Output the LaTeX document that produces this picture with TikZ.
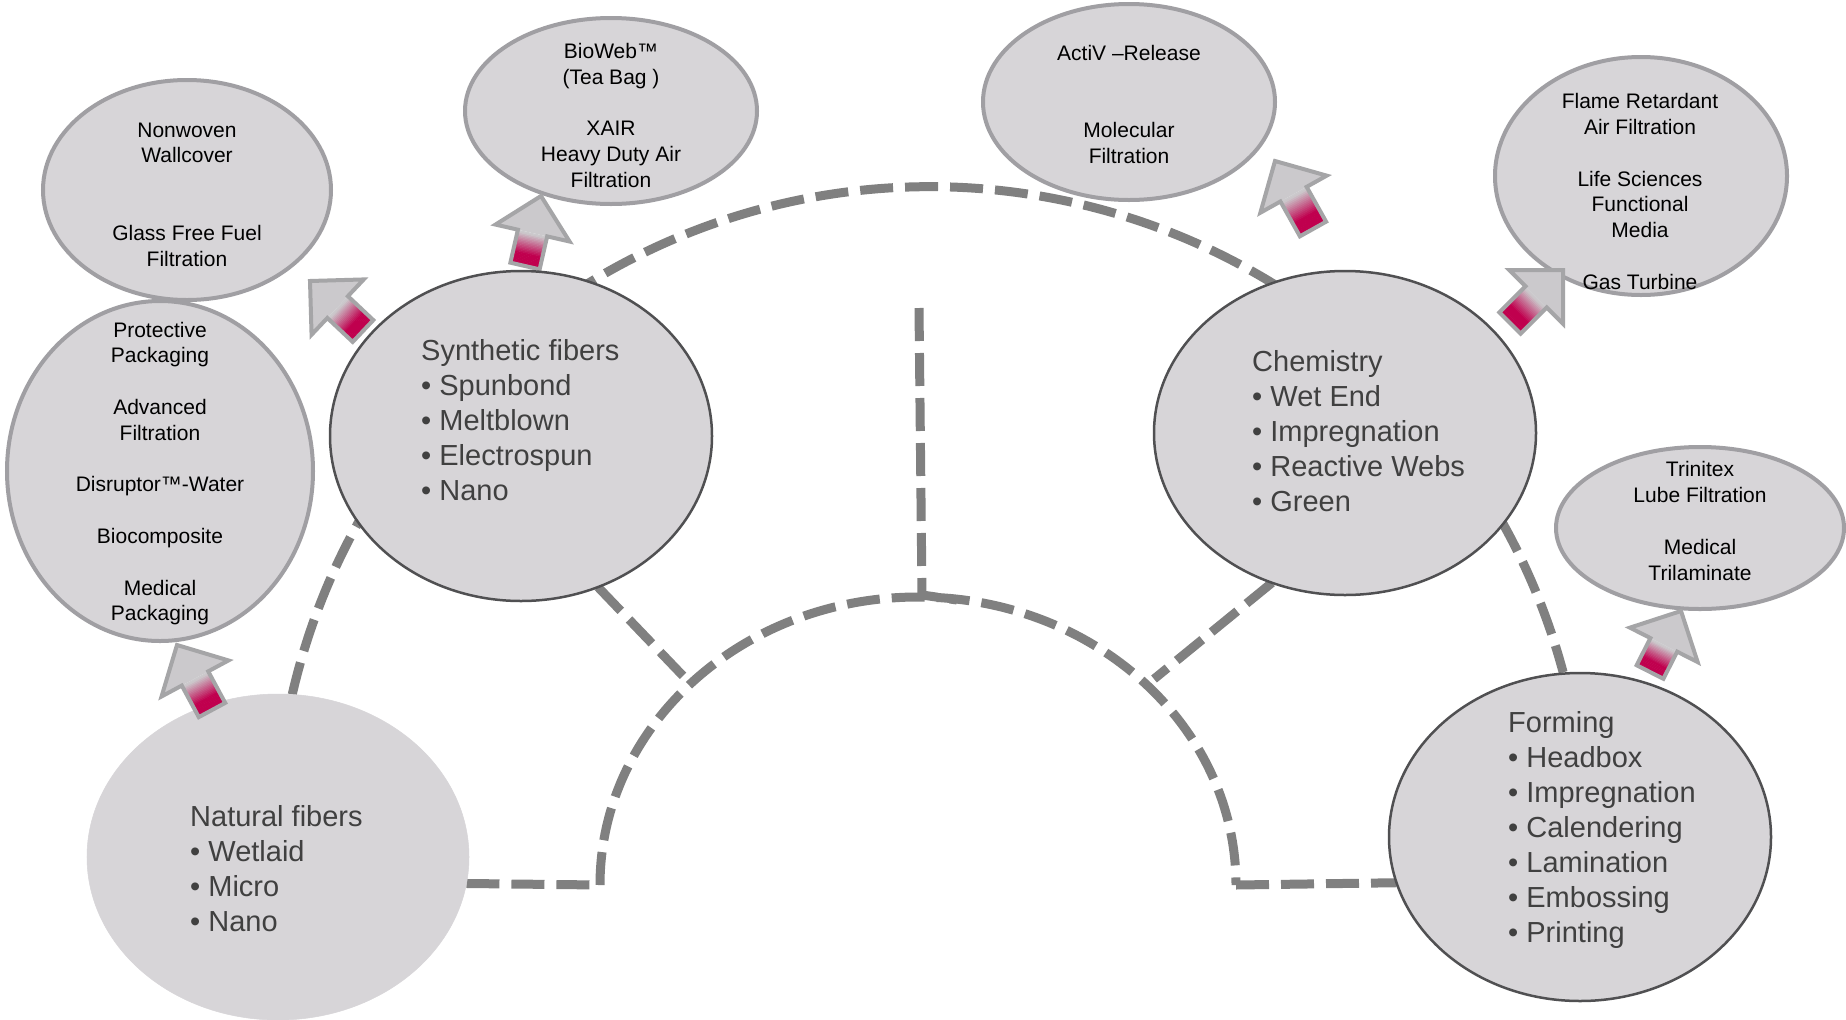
\documentclass[tikz,border=0pt]{standalone}
\usepackage{fontspec}
\setmainfont{Liberation Sans}
\usetikzlibrary{shapes.geometric,calc,backgrounds}
\definecolor{efill}{RGB}{215,213,216}
\definecolor{bigline}{RGB}{80,80,82}
\definecolor{smallline}{RGB}{160,159,163}
\definecolor{dashgray}{RGB}{128,128,128}
\definecolor{btext}{RGB}{64,64,64}
\definecolor{crim}{RGB}{192,0,78}
\definecolor{agray}{RGB}{203,201,204}
\definecolor{aline}{RGB}{165,165,167}
\tikzset{
 bigell/.style={ellipse, fill=efill, draw=bigline, line width=2.5bp, inner sep=0pt, outer sep=0pt},
 smallell/.style={ellipse, fill=efill, draw=smallline, line width=4bp, inner sep=0pt, outer sep=0pt},
 smalltxt/.style={align=center, font=\fontsize{21bp}{25.8bp}\selectfont, text=black, inner sep=0pt},
 bigtxt/.style={align=left, font=\fontsize{29bp}{35bp}\selectfont, text=btext, inner sep=0pt, anchor=west},
 dashline/.style={draw=dashgray, line width=9bp, dash pattern=on 33bp off 12bp},
}
\newcommand\blockarrow[2]{%
  \coordinate (hb) at ($(#2)!38bp!(#1)$);
  \foreach \i in {0,...,23}{%
    \pgfmathsetmacro\fa{\i/24}%
    \pgfmathsetmacro\fb{min(1,(\i+1.3)/24)}%
    \pgfmathsetmacro\pc{max(0,min(100,100*(0.95-(\i+0.5)/24)/0.6))}%
    \coordinate (pa) at ($(#1)!\fa!(hb)$);
    \coordinate (pb) at ($(#1)!\fb!(hb)$);
    \fill[crim!\pc!agray] ($(pa)!15bp!90:(#2)$) -- ($(pb)!15bp!90:(#2)$) -- ($(pb)!15bp!-90:(#2)$) -- ($(pa)!15bp!-90:(#2)$) -- cycle;
  }
  \fill[agray] ($(hb)!38bp!90:(#2)$) -- (#2) -- ($(hb)!38bp!-90:(#2)$) -- cycle;
  \draw[aline, line width=4bp, line join=miter] ($(#1)!15bp!90:(#2)$) -- ($(hb)!15bp!90:(#2)$) -- ($(hb)!38bp!90:(#2)$) -- (#2) -- ($(hb)!38bp!-90:(#2)$) -- ($(hb)!15bp!-90:(#2)$) -- ($(#1)!15bp!-90:(#2)$) -- cycle;
}
\begin{document}
\begin{tikzpicture}[x=1bp, y=-1bp]
\useasboundingbox (0,0) rectangle (1846,1019);
% small ellipses
\node[smallell, minimum width=288bp, minimum height=220bp] (nonw) at (187,190) {};
\node[smallell, minimum width=306bp, minimum height=340bp] (prot) at (160,471) {};
\node[smallell, minimum width=292bp, minimum height=186bp] (bio) at (611,111) {};
\node[smallell, minimum width=292bp, minimum height=196bp] (activ) at (1129,102) {};
\node[smallell, minimum width=292bp, minimum height=238bp] (flame) at (1641,176) {};
\node[smallell, minimum width=288bp, minimum height=162bp] (trin) at (1700,528) {};
% arrows
\coordinate (a1t) at (363,331); \coordinate (a1h) at (310,281);
\coordinate (a2t) at (525,266); \coordinate (a2h) at (541,196);
\coordinate (a3t) at (1313,229); \coordinate (a3h) at (1275,161);
\coordinate (a4t) at (212,710); \coordinate (a4h) at (177,645);
\coordinate (a5t) at (1510,323); \coordinate (a5h) at (1563,270);
\coordinate (a6t) at (1650,672); \coordinate (a6h) at (1681,611);
\blockarrow{a1t}{a1h}
\blockarrow{a2t}{a2h}
\blockarrow{a3t}{a3h}
\blockarrow{a5t}{a5h}
\blockarrow{a6t}{a6h}
% big ellipses
\node[bigell, draw=efill, line width=0.5bp, minimum width=382bp, minimum height=326bp] (nat) at (278,857) {};
\node[bigell, minimum width=382bp, minimum height=330bp] (syn) at (521,436) {};
\node[bigell, minimum width=382bp, minimum height=324bp] (chem) at (1345,433) {};
\node[bigell, minimum width=382bp, minimum height=328bp] (form) at (1580,837) {};
\blockarrow{a4t}{a4h}
% texts
\node[smalltxt] (nonwT) at (187,194.5) {Nonwoven\\Wallcover\\~\\~\\Glass Free Fuel\\Filtration};
\node[smalltxt] (protT) at (160,473.5) {Protective\\Packaging\\~\\Advanced\\Filtration\\~\\Disruptor™-Water\\~\\Biocomposite\\~\\Medical\\Packaging};
\node[smalltxt] (bioT) at (611,115.5) {BioWeb™\\(Tea Bag )\\~\\XAIR\\Heavy Duty Air\\Filtration};
\node[smalltxt] (activT) at (1129,104.5) {ActiV –Release\\~\\~\\Molecular\\Filtration};
\node[smalltxt] (flameT) at (1640,191.5) {Flame Retardant\\Air Filtration\\~\\Life Sciences\\Functional\\Media\\~\\Gas Turbine};
\node[smalltxt] (trinT) at (1700,521) {Trinitex\\Lube Filtration\\~\\Medical\\Trilaminate};
\node[bigtxt] (synT) at (421,420.5) {Synthetic fibers\\• Spunbond\\• Meltblown\\• Electrospun\\• Nano};
\node[bigtxt] (chemT) at (1252,431.5) {Chemistry\\• Wet End\\• Impregnation\\• Reactive Webs\\• Green};
\node[bigtxt] (natT) at (190,868.5) {Natural fibers\\• Wetlaid\\• Micro\\• Nano};
\node[bigtxt] (formT) at (1508,829.5) {Forming\\• Headbox\\• Impregnation\\• Calendering\\• Lamination\\• Embossing\\• Printing};
% dashed structure
\begin{pgfonlayer}{background}
\fill[white] (0,0) rectangle (1846,1019);
\coordinate (iL) at (600,885);
\coordinate (iR) at (1236,885);
\coordinate (vT) at (919,308);
\coordinate (vB) at (922,595);
\coordinate (vS) at (957,600);
\coordinate (d1) at (686,679);
\coordinate (d2) at (1154,679);
\draw[dashline] (nat.85) arc[start angle=193, end angle=345, radius=655];
\draw[dashline] (iL) arc[start angle=180, end angle=360, x radius=318, y radius=288];
\draw[dashline] (nat.-8.5) -- (iL);
\draw[dashline] (iR) -- (form.194.7);
\draw[dashline] (vT) -- (vB) -- (vS);
\draw[dashline] (syn.-63) -- (d1);
\draw[dashline] (chem.-116) -- (d2);
\end{pgfonlayer}
\end{tikzpicture}
\end{document}
